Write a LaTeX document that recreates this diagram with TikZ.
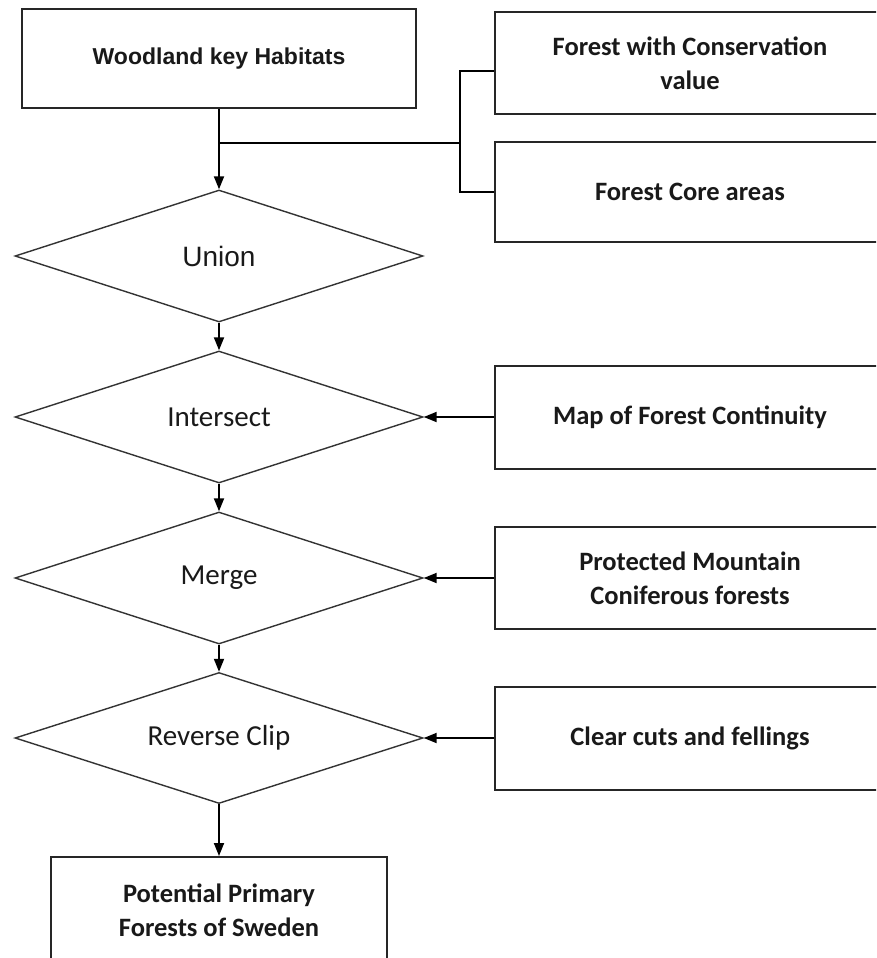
\documentclass[tikz,border=0pt]{standalone}
\usepackage{fontspec}
\setmainfont{Carlito}
\newfontfamily\arialf{Liberation Sans}
\usetikzlibrary{shapes.geometric,arrows.meta}
\begin{document}
\begin{tikzpicture}[x=1pt,y=-1pt,
  box/.style={draw=black!85, line width=2pt, rectangle, inner sep=0pt, align=center,
    text=black!90, font=\bfseries\fontsize{26.5}{34}\selectfont},
  dia/.style={draw=black!80, line width=1.4pt, diamond, aspect=3.1, inner sep=0pt,
    minimum width=408pt, minimum height=132pt, text=black!90, font=\fontsize{29}{34}\selectfont},
  arr/.style={draw=black, line width=1.8pt, -{Triangle[length=13pt,width=10pt]}},
  ln/.style={draw=black, line width=1.8pt}
]
\clip (0,0) rectangle (876,958);
\fill[white] (0,0) rectangle (876,958);

% left column
\node[box, minimum width=394pt, minimum height=99pt, font=\arialf\bfseries\fontsize{23}{28}\selectfont] (wood) at (219,58.5) {Woodland key Habitats};
\node[dia, font=\arialf\fontsize{28}{34}\selectfont] (union) at (219,256) {Union};
\node[dia] (inter) at (219,417) {Intersect};
\node[dia] (merge) at (219,578) {Merge};
\node[dia, minimum height=131pt] (rev) at (219,738) {Reverse Clip};
\node[box, minimum width=336pt, minimum height=106pt] (pot) at (219,910) {Potential Primary\\Forests of Sweden};

% right column
\node[box, minimum width=390pt, minimum height=102pt] (fcv) at (690,63) {Forest with Conservation\\value};
\node[box, minimum width=390pt, minimum height=100pt] (fca) at (690,192) {Forest Core areas};
\node[box, minimum width=390pt, minimum height=103pt] (map) at (690,417) {Map of Forest Continuity};
\node[box, minimum width=390pt, minimum height=102pt] (prot) at (690,578) {Protected Mountain\\Coniferous forests};
\node[box, minimum width=390pt, minimum height=103pt] (clear) at (690,738) {Clear cuts and fellings};

% bracket joining the two top-right inputs
\coordinate (j1) at (219,143);
\coordinate (j2) at (460,143);
\coordinate (b1) at (460,71);
\coordinate (b2) at (460,192);
\draw[ln] (j1) -- (j2);
\draw[ln] (b1 -| fcv.west) -- (b1) -- (b2) -- (fca.west);

% main flow
\draw[arr] (wood.south) -- (union.north);
\draw[arr] (union.south) -- (inter.north);
\draw[arr] (inter.south) -- (merge.north);
\draw[arr] (merge.south) -- (rev.north);
\draw[arr] (rev.south) -- (pot.north);

% side inputs
\draw[arr] (map.west) -- (inter.east);
\draw[arr] (prot.west) -- (merge.east);
\draw[arr] (clear.west) -- (rev.east);
\end{tikzpicture}
\end{document}
